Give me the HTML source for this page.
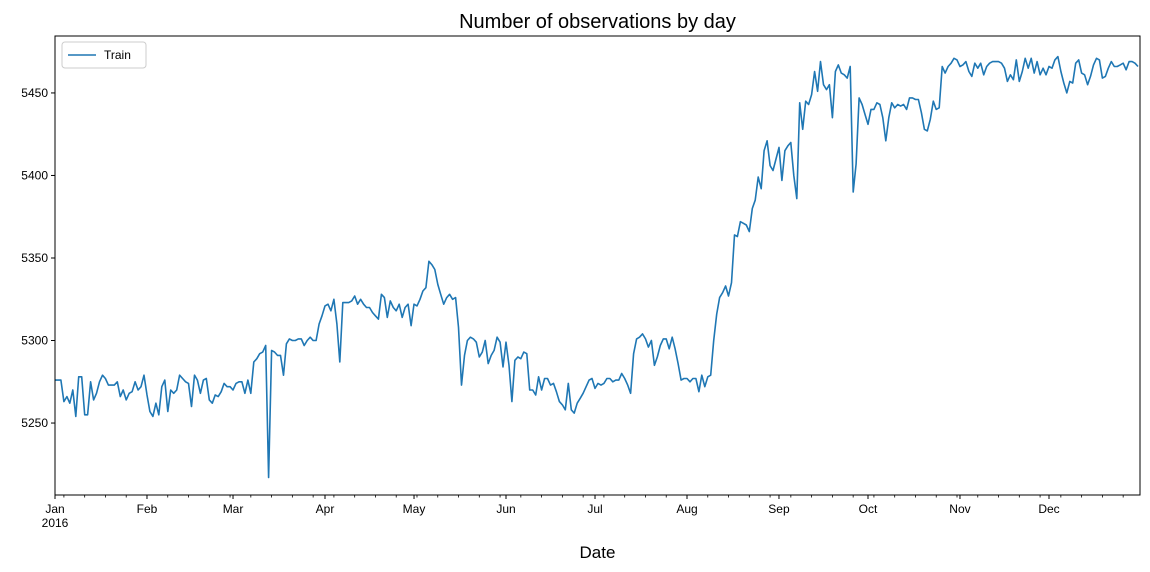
<!DOCTYPE html>
<html><head><meta charset="utf-8"><style>
body{margin:0;background:#fff;}
svg{display:block;font-family:"Liberation Sans","DejaVu Sans",sans-serif;}
</style></head><body>
<svg id="chart" width="1150" height="572"></svg>
<script>
const months=["Jan","Feb","Mar","Apr","May","Jun","Jul","Aug","Sep","Oct","Nov","Dec"];
const monthDays=[31,29,31,30,31,30,31,31,30,31,30,31];
const yTicks=[5250,5300,5350,5400,5450];
const jan=[5276,5276,5276,5263,5266,5262,5270,5254,5278,5278,5255,5255,5275,5264,5268,5275,5279,5277,5273,5273,5273,5275,5266,5270,5264,5268,5269,5275,5270,5272,5279];
const feb=[5267,5257,5254,5262,5255,5272,5276,5257,5270,5268,5270,5279,5277,5275,5274,5260,5279,5276,5268,5276,5277,5264,5262,5267,5266,5269,5274,5272,5272];
const mar=[5270,5274,5275,5275,5268,5276,5268,5287,5289,5292,5293,5297,5217,5294,5293,5291,5291,5279,5298,5301,5300,5300,5301,5301,5297,5300,5302,5300,5300,5310,5315];
const apr=[5321,5322,5318,5325,5310,5287,5323,5323,5323,5324,5327,5322,5325,5322,5320,5320,5317,5315,5313,5328,5326,5314,5324,5320,5318,5322,5314,5320,5322,5309];
const may=[5322,5321,5325,5330,5332,5348,5346,5343,5334,5328,5322,5326,5328,5325,5326,5308,5273,5291,5300,5302,5301,5299,5290,5293,5300,5286,5291,5294,5302,5299,5284];
const jun=[5299,5285,5263,5288,5290,5289,5293,5292,5270,5270,5267,5278,5270,5277,5277,5273,5274,5269,5263,5261,5258,5274,5258,5256,5262,5265,5268,5272,5276,5277];
const jul=[5271,5274,5273,5274,5277,5277,5275,5276,5276,5280,5277,5273,5268,5292,5301,5302,5304,5301,5296,5300,5285,5290,5297,5301,5301,5295,5302,5295,5286,5276,5277];
const aug=[5277,5275,5277,5277,5269,5279,5272,5278,5279,5300,5316,5326,5329,5333,5327,5335,5364,5363,5372,5371,5370,5366,5380,5385,5399,5392,5415,5421,5406,5403,5410];
const sep=[5417,5397,5415,5418,5420,5400,5386,5444,5428,5445,5443,5449,5463,5451,5469,5455,5452,5455,5435,5463,5467,5462,5461,5459,5466,5390,5407,5447,5443,5437];
const oct=[5431,5440,5440,5444,5443,5435,5421,5435,5444,5441,5443,5442,5443,5440,5447,5447,5446,5446,5438,5428,5427,5434,5445,5440,5441,5466,5462,5466,5468,5471,5470];
const nov=[5466,5467,5469,5463,5460,5468,5465,5468,5461,5466,5468,5469,5469,5469,5468,5465,5457,5461,5458,5470,5457,5463,5471,5465,5471,5462,5469,5461,5465,5461];
const dec=[5466,5465,5470,5472,5463,5456,5450,5457,5456,5468,5470,5462,5461,5455,5460,5467,5471,5470,5459,5460,5465,5469,5466,5466,5467,5468,5464,5469,5469,5468,5466];
const values=[].concat(jan,feb,mar,apr,may,jun,jul,aug,sep,oct,nov,dec);

const svg=document.getElementById('chart');
const NS='http://www.w3.org/2000/svg';
const L=55,R=1140,T=36,B=495;
const nDays=366;
const x=d=>L+(d/(nDays-1))*(R-L-2);
const yMin=5206.4,yMax=5484.5;
const y=v=>B-(v-yMin)/(yMax-yMin)*(B-T);
function mk(tag,attrs){const e=document.createElementNS(NS,tag);for(const k in attrs)e.setAttribute(k,attrs[k]);svg.appendChild(e);return e;}

const title=mk('text',{x:(L+R)/2,y:28,'text-anchor':'middle','font-size':'20'});
title.textContent='Number of observations by day';



// y ticks
yTicks.forEach(v=>{
  const t=mk('line',{x1:L-4,x2:L,y1:y(v),y2:y(v),stroke:'#000','stroke-width':1});
  
  
  const lb=mk('text',{x:L-7,y:y(v)+4,'text-anchor':'end','font-size':'12'});
  lb.textContent=v;
  
  
});

// x ticks
let starts=[],acc=0;
monthDays.forEach(n=>{starts.push(acc);acc+=n;});
for(let d=3;d<nDays;d+=7){
  if(starts.includes(d))continue;
  const m=mk('line',{x1:x(d),x2:x(d),y1:B,y2:B+2.5,stroke:'#000','stroke-width':0.8});
  
  
}
starts.forEach((s,i)=>{
  const t=mk('line',{x1:x(s),x2:x(s),y1:B,y2:B+4,stroke:'#000','stroke-width':1});
  
  
  const lb=mk('text',{x:x(s),y:B+18,'text-anchor':'middle','font-size':'12'});
  lb.textContent=months[i];
  
  
});
const yr=mk('text',{x:x(0),y:B+32,'text-anchor':'middle','font-size':'12'});
yr.textContent='2016';



const xt=mk('text',{x:(L+R)/2,y:558,'text-anchor':'middle','font-size':'17'});
xt.textContent='Date';



// line
const pts=values.map((v,i)=>x(i).toFixed(1)+','+y(v).toFixed(1)).join(' ');
const line=mk('polyline',{points:pts,fill:'none',stroke:'#1f77b4','stroke-width':1.6,'stroke-linejoin':'round'});



// frame
const fr=mk('rect',{x:L,y:T,width:R-L,height:B-T,fill:'none',stroke:'#000','stroke-width':1});



// legend
const lg=mk('rect',{x:62,y:42,width:84,height:26,rx:3,fill:'#fff',stroke:'#ccc','stroke-width':1});


const ll=mk('line',{x1:68,x2:96,y1:55,y2:55,stroke:'#1f77b4','stroke-width':1.6});


const lt=mk('text',{x:104,y:59,'font-size':'12'});
lt.textContent='Train';


</script>
</body></html>
